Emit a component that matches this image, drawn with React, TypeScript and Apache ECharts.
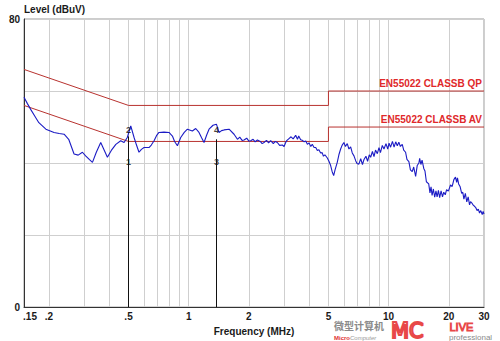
import { useEffect, useRef } from 'react';
import * as echarts from 'echarts';

const freqMHz = [
  0.15, 0.156, 0.162, 0.17, 0.178, 0.193, 0.212, 0.225, 0.238, 0.251, 0.267, 0.28, 0.294, 0.305, 0.318, 0.33,
  0.345, 0.363, 0.392, 0.41, 0.432, 0.457, 0.475, 0.493, 0.513, 0.533, 0.548, 0.564, 0.58, 0.598, 0.633, 0.65,
  0.671, 0.69, 0.71, 0.752, 0.797, 0.829, 0.85, 0.878, 0.912, 0.95, 0.985, 1.043, 1.084, 1.126, 1.16, 1.193,
  1.23, 1.264, 1.323, 1.376, 1.418, 1.46, 1.503, 1.592, 1.686, 1.753, 1.8, 1.85, 1.891, 1.95, 2.0, 2.042,
  2.1, 2.15, 2.206, 2.28, 2.33, 2.38, 2.45, 2.51, 2.57, 2.65, 2.71, 2.775, 2.85, 2.941, 3.0, 3.055,
  3.1, 3.174, 3.25, 3.33, 3.428, 3.5, 3.55, 3.631, 3.7, 3.78, 3.85, 3.924, 4.0, 4.08, 4.15, 4.238,
  4.32, 4.4, 4.48, 4.571, 4.65, 4.72, 4.8, 4.937, 5.03, 5.129, 5.22, 5.31, 5.4, 5.534, 5.64, 5.754,
  5.85, 5.977, 6.08, 6.21, 6.33, 6.457, 6.58, 6.71, 6.85, 6.95, 7.1, 7.25, 7.4, 7.52, 7.7, 7.85,
  8.0, 8.13, 8.3, 8.45, 8.6, 8.78, 8.95, 9.1, 9.3, 9.48, 9.7, 9.9, 10.05, 10.23, 10.45, 10.65,
  10.85, 11.05, 11.25, 11.45, 11.7, 11.9, 12.16, 12.35, 12.63, 12.85, 13.13, 13.35, 13.65, 13.9, 14.17, 14.3,
  14.5, 14.7, 14.99, 15.2, 15.45, 15.87, 16.1, 16.3, 16.5, 16.75, 17.0, 17.25, 17.48, 17.75, 18.0, 18.3,
  18.6, 18.87, 19.2, 19.5, 19.9, 20.4, 20.8, 21.2, 21.6, 21.9, 22.1, 22.4, 22.8, 23.2, 23.5, 23.8,
  24.2, 24.6, 25.0, 25.4, 25.7, 26.1, 26.5, 26.9, 27.3, 27.7, 28.1, 28.5, 28.9, 29.4, 29.7, 30.0,
];

const levelDbuv = [
  58.3, 56.5, 54.9, 53.0, 51.2, 49.4, 48.5, 48.2, 48.0, 46.6, 42.5, 42.2, 43.0, 42.0, 41.0, 40.2,
  43.0, 45.7, 41.6, 43.5, 45.2, 46.2, 45.7, 47.1, 50.3, 47.1, 45.0, 43.0, 43.8, 44.3, 44.3, 45.0,
  46.2, 47.6, 48.5, 48.6, 48.5, 47.5, 46.0, 44.8, 47.1, 48.5, 49.4, 48.9, 49.6, 48.5, 47.0, 45.7,
  47.8, 49.4, 50.5, 50.8, 48.5, 49.0, 49.2, 49.4, 48.0, 46.6, 47.2, 46.3, 46.4, 46.9, 46.1, 46.2,
  46.6, 45.9, 46.4, 46.0, 45.4, 45.7, 46.3, 45.6, 46.2, 45.4, 46.0, 45.7, 44.9, 45.0, 44.6, 45.7,
  46.3, 46.8, 47.3, 46.7, 47.7, 46.6, 47.5, 46.5, 46.3, 45.9, 46.1, 45.2, 45.6, 44.6, 45.2, 44.3,
  44.3, 43.5, 43.7, 42.8, 42.9, 41.9, 42.3, 41.4, 40.5, 39.3, 37.6, 36.5, 38.2, 40.2, 42.3, 43.9,
  44.9, 45.7, 44.6, 45.4, 43.9, 44.5, 42.8, 42.0, 40.6, 39.9, 39.7, 41.2, 39.6, 40.9, 41.9, 40.5,
  42.3, 41.6, 43.2, 41.8, 43.6, 42.6, 44.3, 42.9, 44.9, 43.9, 45.4, 43.9, 45.5, 44.4, 46.0, 44.4,
  45.9, 44.8, 45.8, 44.6, 45.2, 43.6, 43.0, 41.0, 40.4, 38.1, 37.6, 38.9, 36.3, 39.3, 40.0, 41.3,
  39.6, 40.8, 38.5, 37.8, 34.8, 34.2, 31.7, 33.4, 31.0, 32.8, 30.5, 32.3, 30.6, 32.4, 30.4, 32.3,
  30.6, 31.9, 31.2, 32.6, 32.2, 33.9, 33.5, 35.4, 36.1, 34.6, 35.9, 34.2, 33.4, 31.6, 31.9, 30.0,
  31.6, 29.2, 30.6, 28.4, 29.3, 28.9, 28.3, 28.0, 27.6, 26.8, 27.2, 26.1, 26.8, 25.7, 26.6, 25.8,
];

const qpLimit: [number, number][] = [[0.15, 66], [0.5, 56], [5, 56], [5, 60], [30, 60]];
const avLimit: [number, number][] = [[0.15, 56], [0.5, 46], [5, 46], [5, 50], [30, 50]];
const qpName = 'EN55022 CLASSB QP';
const avName = 'EN55022 CLASSB AV';

const xTickLabels = [0.15, 0.2, 0.5, 1, 2, 5, 10, 20, 30];
const xGridValues = [0.15, 0.2, 0.3, 0.4, 0.5, 0.6, 0.7, 0.8, 0.9, 1, 2, 3, 4, 5, 6, 7, 8, 9, 10, 20, 30];

const markerFreqs = [0.5, 1.376];
const markerTops = [47.4, 46.6];
const markerNames = ['1', '2', '3', '4'];
const markerFreqOf = [0.5, 0.5, 1.376, 1.376];
const markerLevels = [40.3, 49.1, 40.3, 49.1];

const FONT = '"Liberation Sans", Arial, sans-serif';
const LIMIT_COLOR = '#b8322f';
const TRACE_COLOR = '#1b1bc4';

function fmtFreq(v: number): string {
  if (v < 1) return String(v).replace(/^0/, '');
  return String(v);
}

export default function App() {
  const ref = useRef<HTMLDivElement>(null);

  useEffect(() => {
    if (!ref.current) return;
    const chart = echarts.init(ref.current, null, { renderer: 'svg' });

    const trace = freqMHz.map((f, i) => [f, levelDbuv[i]]);

    const limitSeries = (pts: [number, number][], label: string) => ({
      type: 'line',
      name: label,
      data: pts,
      symbol: 'none',
      showSymbol: false,
      lineStyle: { color: LIMIT_COLOR, width: 1 },
      itemStyle: { color: LIMIT_COLOR },
      z: 4,
      markPoint: {
        silent: true,
        symbol: 'circle',
        symbolSize: 1,
        itemStyle: { color: 'rgba(0,0,0,0)' },
        data: [
          {
            coord: pts[pts.length - 1],
            label: {
              show: true,
              position: 'top',
              align: 'right',
              distance: 2,
              offset: [-2, 0],
              formatter: label,
              color: '#e0282a',
              fontWeight: 'bold',
              fontSize: 10,
              fontFamily: FONT,
            },
          },
        ],
      },
    });

    chart.setOption({
      animation: false,
      textStyle: { fontFamily: FONT },
      grid: {
        left: 24,
        right: 16,
        top: 19,
        bottom: 32,
        show: true,
        borderColor: '#9a9a9a',
        borderWidth: 1,
        backgroundColor: 'transparent',
      },
      xAxis: {
        type: 'log',
        logBase: 10,
        min: 0.15,
        max: 30,
        name: 'Frequency (MHz)',
        nameLocation: 'middle',
        nameGap: 13,
        nameTextStyle: { fontWeight: 'bold', fontSize: 10, color: '#1a1a1a', fontFamily: FONT },
        axisLine: { show: true, lineStyle: { color: '#333', width: 1 } },
        axisTick: { show: false, customValues: xGridValues },
        splitLine: { show: true, lineStyle: { color: '#cfcfcf', width: 1 } },
        minorSplitLine: { show: false },
        axisLabel: {
          customValues: xTickLabels,
          margin: 4,
          fontSize: 10,
          fontWeight: 'bold',
          color: '#1a1a1a',
          fontFamily: FONT,
          formatter: (v: number) => (Math.abs(v - 0.15) < 1e-6 ? '{a|.15}' : fmtFreq(Math.round(v * 100) / 100)),
          rich: {
            a: { padding: [0, 0, 0, 12], fontSize: 10, fontWeight: 'bold', color: '#1a1a1a', fontFamily: FONT },
          },
        },
      },
      yAxis: {
        type: 'value',
        min: 0,
        max: 80,
        interval: 20,
        name: 'Level (dBuV)',
        nameLocation: 'end',
        nameGap: 5,
        nameTextStyle: { align: 'left', fontWeight: 'bold', fontSize: 10, color: '#1a1a1a', fontFamily: FONT },
        axisLine: { show: true, lineStyle: { color: '#333', width: 1 } },
        axisTick: { show: false },
        splitLine: { show: true, lineStyle: { color: '#cfcfcf', width: 1 } },
        axisLabel: {
          margin: 4,
          fontSize: 10,
          fontWeight: 'bold',
          color: '#1a1a1a',
          fontFamily: FONT,
          formatter: (v: number) => (v === 0 || v === 80 ? String(v) : ''),
        },
      },
      series: [
        {
          type: 'line',
          name: 'markers',
          data: [],
          silent: true,
          z: 3,
          markLine: {
            silent: true,
            symbol: 'none',
            label: { show: false },
            lineStyle: { color: '#111', width: 1, type: 'solid' },
            data: markerFreqs.map((f, i) => [{ coord: [f, markerTops[i]] }, { coord: [f, 0] }]),
          },
        },
        limitSeries(qpLimit, qpName),
        limitSeries(avLimit, avName),
        {
          type: 'line',
          name: 'Level',
          data: trace,
          symbol: 'none',
          showSymbol: false,
          lineStyle: { color: TRACE_COLOR, width: 1.1 },
          z: 5,
        },
        {
          type: 'scatter',
          name: 'marker labels',
          symbolSize: 0,
          z: 6,
          data: markerNames.map((n, i) => ({ name: n, value: [markerFreqOf[i], markerLevels[i]] })),
          label: {
            show: true,
            position: 'inside',
            formatter: '{b}',
            color: '#111',
            fontSize: 9,
            fontWeight: 'bold',
            fontFamily: FONT,
          },
        },
      ],
      graphic: [
        {
          type: 'text',
          left: 334,
          top: 320,
          style: {
            text: '微型计算机',
            fontSize: 10,
            lineHeight: 10,
            fontWeight: 'bold',
            fontFamily: '"Noto Sans CJK SC", sans-serif',
            fill: '#8a8a8a',
          },
          z: 51,
        },
        {
          type: 'text',
          left: 334,
          top: 335,
          style: {
            rich: {
              m: { fontSize: 6, lineHeight: 6, fill: '#e03030', fontFamily: FONT, fontWeight: 'bold' },
              c: { fontSize: 6, lineHeight: 6, fill: '#9a9a9a', fontFamily: FONT, fontStyle: 'italic' },
            },
            text: '{m|Micro}{c|Computer}',
          },
          z: 51,
        },
        {
          type: 'text',
          left: 390,
          top: 319,
          style: {
            text: 'MC',
            fontSize: 21,
            lineHeight: 21,
            fontFamily: '"DejaVu Sans", sans-serif',
            fontWeight: 'normal',
            fill: 'rgba(255,255,255,0)',
            stroke: '#e84848',
            lineWidth: 2,
          },
          z: 51,
        },
        {
          type: 'text',
          left: 449,
          top: 321,
          style: {
            text: 'LIVE',
            fontSize: 11,
            lineHeight: 11,
            fontFamily: FONT,
            fill: 'rgba(255,255,255,0)',
            stroke: '#e84848',
            lineWidth: 1,
          },
          z: 51,
        },
        {
          type: 'text',
          left: 449,
          top: 333,
          style: {
            text: 'professional',
            fontSize: 8,
            lineHeight: 8,
            fontFamily: FONT,
            fill: '#8a8a8a',
          },
          z: 51,
        },
      ],
    });

    return () => chart.dispose();
  }, []);

  return (
    <div
      ref={ref}
      style={{ position: 'fixed', left: 0, top: 0, width: 500, height: 341, background: '#fff' }}
    />
  );
}
